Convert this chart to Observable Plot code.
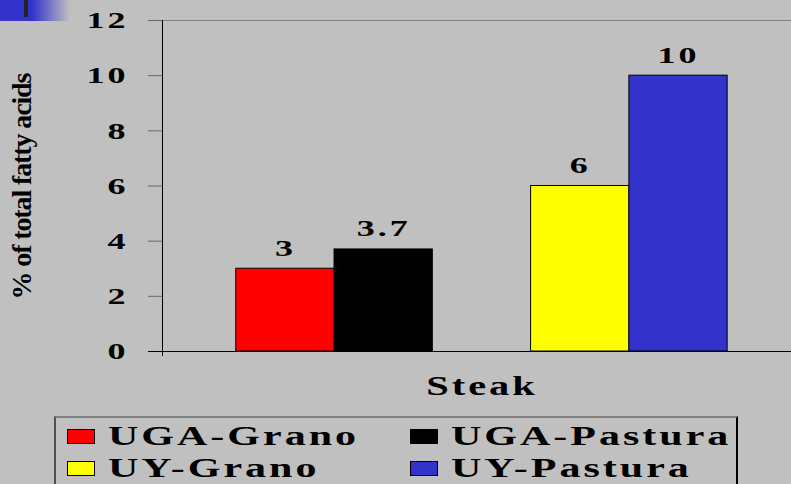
<!DOCTYPE html>
<html><head><meta charset="utf-8">
<script src="https://cdn.jsdelivr.net/npm/d3@7"></script>
<script src="https://cdn.jsdelivr.net/npm/@observablehq/plot@0.6"></script>
<style>
html,body{margin:0;padding:0;background:#c0c0c0;}
#wrap{position:relative;width:791px;height:484px;overflow:hidden;background:#c0c0c0;font-family:"Liberation Serif","Times New Roman",serif;font-weight:bold;color:#000;}
#chart svg{display:block;}
.deco{position:absolute;left:0;top:0;width:70px;height:21px;background:linear-gradient(to right,#3333cc 0,#3333cc 32px,#c0c0c0 70px);}
.deco2{position:absolute;left:24px;top:0;width:4px;height:17px;background:#222;}
#legend{position:absolute;left:54px;top:416px;width:684px;height:90px;border-top:2px solid #808080;border-left:2px solid #505050;border-right:2px solid #000;box-sizing:border-box;}
.item{position:absolute;height:32px;display:flex;align-items:center;white-space:nowrap;}
.sw{width:28px;height:15px;border:1px solid #000;box-sizing:border-box;margin-right:13px;flex:none;}
.lab{display:inline-block;transform:scaleX(1.5);transform-origin:left center;font-size:28px;letter-spacing:2px;line-height:32px;}
</style>
</head><body>
<div id="wrap">
  <div id="chart"></div>
  <div class="deco"></div><div class="deco2"></div>
  <div id="legend"></div>
</div>
<script>
// ---- data ----
const categories = ["UGA-Grano", "UGA-Pastura", "UY-Grano", "UY-Pastura"];
const groups = ["UGA", "UGA", "UY", "UY"];
const values = [3, 3.7, 6, 10];
const colors = ["#ff0000", "#000000", "#ffff00", "#3333cc"];
const yTicks = [0, 2, 4, 6, 8, 10, 12];
const xTitle = "Steak";
const yTitle = "% of total fatty acids";

const FONT = "'Liberation Serif','Times New Roman',serif";

// ---- build table ----
const data = categories.map((c, i) => ({category: c, group: groups[i], value: values[i], color: colors[i]}));
// band domain with a spacer slot between the two groups
const xDomain = [];
categories.forEach((c, i) => {
  if (i > 0 && groups[i] !== groups[i - 1]) xDomain.push("gap " + groups[i - 1] + "/" + groups[i]);
  xDomain.push(c);
});

const chart = Plot.plot({
  width: 791,
  height: 410,
  marginLeft: 162,
  marginRight: 0,
  marginTop: 20,
  marginBottom: 59,
  style: {background: "#c0c0c0", fontFamily: FONT, fontWeight: "bold", color: "#000", overflow: "visible"},
  x: {domain: xDomain, paddingInner: 0, paddingOuter: 0.7, align: 0.536, round: false, axis: null},
  y: {domain: [0, 12], axis: null, label: null},
  marks: [
    Plot.ruleY([12], {stroke: "#808080"}),
    Plot.barY(data, {x: "category", y: "value", fill: "color", stroke: "#000", strokeWidth: 1}),
    Plot.axisY(yTicks, {tickSize: 14, tickPadding: 20, fontSize: 24, fontFamily: FONT, fontWeight: "bold", stroke: "#6a6a6a", fill: "#000", label: null}),
    Plot.ruleY([0], {stroke: "#000", insetLeft: -14}),
    Plot.frame({anchor: "left", stroke: "#000", insetBottom: -4}),
    Plot.text(data, {x: "category", y: "value", text: d => String(d.value), lineAnchor: "bottom", dy: -13, fontSize: 24, fontFamily: FONT, fontWeight: "bold", fill: "#000"}),
    Plot.text([xTitle], {frameAnchor: "bottom", lineAnchor: "bottom", dx: 5, dy: 43, fontSize: 27, fontFamily: FONT, fontWeight: "bold", fill: "#000"}),
    Plot.text([yTitle], {frameAnchor: "left", textAnchor: "middle", rotate: -90, dx: -140, fontSize: 28, fontFamily: FONT, fontWeight: "bold", fill: "#000"})
  ]
});

// stretch the text horizontally like the original
d3.select(chart).selectAll("text").each(function() {
  const t = d3.select(this);
  t.style("font-family", FONT).style("font-weight", "bold");
  if (this.textContent === yTitle) {
    t.attr("textLength", 227).attr("lengthAdjust", "spacing");
    return;
  }
  t.style("letter-spacing", "2px");
  const tr = t.attr("transform");
  if (tr) t.attr("transform", tr + " scale(1.5,1)");
  else {
    const x = +t.attr("x") || 0, y = +t.attr("y") || 0;
    t.attr("transform", `translate(${x},${y}) scale(1.5,1) translate(${-x},${-y})`);
  }
});
document.getElementById("chart").appendChild(chart);

// ---- legend ----
const legend = document.getElementById("legend");
const colLeft = [11, 354];
const rowTop = [2, 34];
categories.forEach((c, i) => {
  const item = document.createElement("div");
  item.className = "item";
  item.style.left = colLeft[i % 2] + "px";
  item.style.top = rowTop[Math.floor(i / 2)] + "px";
  const sw = document.createElement("span");
  sw.className = "sw";
  sw.style.background = colors[i];
  const lab = document.createElement("span");
  lab.className = "lab";
  lab.textContent = c;
  item.appendChild(sw);
  item.appendChild(lab);
  legend.appendChild(item);
});
</script>
</body></html>
